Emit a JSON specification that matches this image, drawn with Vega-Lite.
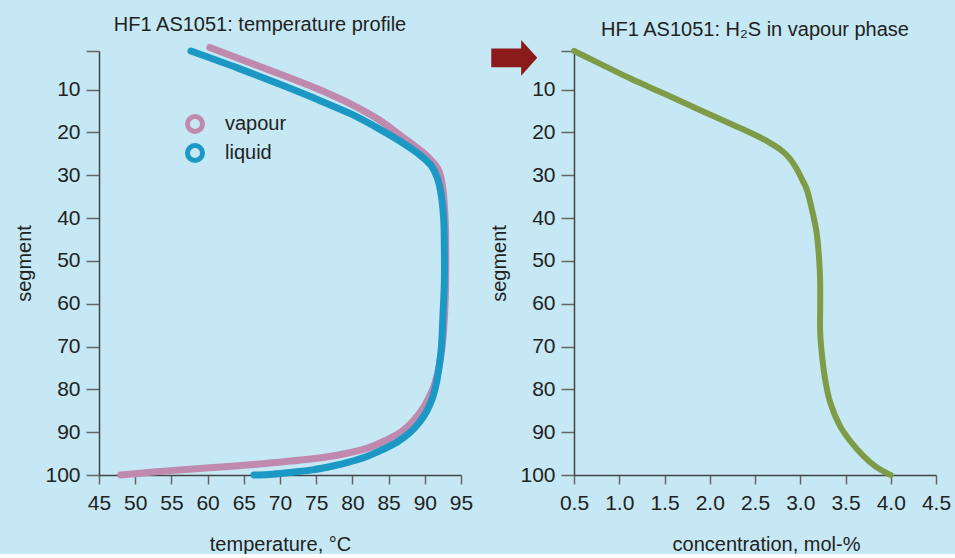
{
  "$schema": "https://vega.github.io/schema/vega-lite/v6.json",
  "background": "#c5e8f4",
  "padding": {"left": 14, "top": 14, "right": 10, "bottom": 0},
  "spacing": 113,
  "bounds": "flush",
  "datasets": {
    "temp": [
      {"phase": "vapour", "segment": 0.2, "temperature": 60.3},
      {"phase": "vapour", "segment": 3.5, "temperature": 65.5},
      {"phase": "vapour", "segment": 6.8, "temperature": 70.6},
      {"phase": "vapour", "segment": 10, "temperature": 75.4},
      {"phase": "vapour", "segment": 13.4, "temperature": 79.8},
      {"phase": "vapour", "segment": 17, "temperature": 83.6},
      {"phase": "vapour", "segment": 20.8, "temperature": 86.7},
      {"phase": "vapour", "segment": 25.5, "temperature": 90.3},
      {"phase": "vapour", "segment": 28.5, "temperature": 91.8},
      {"phase": "vapour", "segment": 32, "temperature": 92.4},
      {"phase": "vapour", "segment": 40, "temperature": 92.8},
      {"phase": "vapour", "segment": 50, "temperature": 92.9},
      {"phase": "vapour", "segment": 60, "temperature": 92.8},
      {"phase": "vapour", "segment": 70, "temperature": 92.4},
      {"phase": "vapour", "segment": 76, "temperature": 91.8},
      {"phase": "vapour", "segment": 80, "temperature": 91.1},
      {"phase": "vapour", "segment": 84, "temperature": 89.9},
      {"phase": "vapour", "segment": 87, "temperature": 88.6},
      {"phase": "vapour", "segment": 90, "temperature": 86.7},
      {"phase": "vapour", "segment": 92, "temperature": 84.5},
      {"phase": "vapour", "segment": 93.8, "temperature": 82},
      {"phase": "vapour", "segment": 95.5, "temperature": 77.5},
      {"phase": "vapour", "segment": 96.5, "temperature": 72.9},
      {"phase": "vapour", "segment": 97.3, "temperature": 68},
      {"phase": "vapour", "segment": 97.9, "temperature": 63.8},
      {"phase": "vapour", "segment": 98.7, "temperature": 57},
      {"phase": "vapour", "segment": 99.3, "temperature": 52.5},
      {"phase": "vapour", "segment": 100, "temperature": 48},
      {"phase": "liquid", "segment": 1, "temperature": 57.7},
      {"phase": "liquid", "segment": 5, "temperature": 64.2},
      {"phase": "liquid", "segment": 9.2, "temperature": 70.6},
      {"phase": "liquid", "segment": 12.5, "temperature": 75.4},
      {"phase": "liquid", "segment": 15.7, "temperature": 79.8},
      {"phase": "liquid", "segment": 19, "temperature": 83.5},
      {"phase": "liquid", "segment": 22.2, "temperature": 86.7},
      {"phase": "liquid", "segment": 25.5, "temperature": 89.5},
      {"phase": "liquid", "segment": 27.8, "temperature": 90.9},
      {"phase": "liquid", "segment": 30.5, "temperature": 91.7},
      {"phase": "liquid", "segment": 33.9, "temperature": 92.2},
      {"phase": "liquid", "segment": 40, "temperature": 92.6},
      {"phase": "liquid", "segment": 47, "temperature": 92.7},
      {"phase": "liquid", "segment": 55, "temperature": 92.7},
      {"phase": "liquid", "segment": 63, "temperature": 92.5},
      {"phase": "liquid", "segment": 70, "temperature": 92.3},
      {"phase": "liquid", "segment": 74.5, "temperature": 92.0},
      {"phase": "liquid", "segment": 78.5, "temperature": 91.6},
      {"phase": "liquid", "segment": 82.3, "temperature": 91.0},
      {"phase": "liquid", "segment": 85, "temperature": 90.3},
      {"phase": "liquid", "segment": 87.6, "temperature": 89.3},
      {"phase": "liquid", "segment": 90, "temperature": 88.0},
      {"phase": "liquid", "segment": 92.3, "temperature": 86.2},
      {"phase": "liquid", "segment": 94.2, "temperature": 84.0},
      {"phase": "liquid", "segment": 95.8, "temperature": 81.8},
      {"phase": "liquid", "segment": 97, "temperature": 79.5},
      {"phase": "liquid", "segment": 97.9, "temperature": 77.3},
      {"phase": "liquid", "segment": 98.8, "temperature": 74.5},
      {"phase": "liquid", "segment": 99.4, "temperature": 71.5},
      {"phase": "liquid", "segment": 99.8, "temperature": 69},
      {"phase": "liquid", "segment": 100, "temperature": 66.4}
    ],
    "h2s": [
      {"segment": 1, "concentration": 0.5},
      {"segment": 4, "concentration": 0.79},
      {"segment": 7.5, "concentration": 1.13},
      {"segment": 11, "concentration": 1.5},
      {"segment": 14.5, "concentration": 1.86},
      {"segment": 18, "concentration": 2.23},
      {"segment": 20.8, "concentration": 2.52},
      {"segment": 22.5, "concentration": 2.67},
      {"segment": 24, "concentration": 2.78},
      {"segment": 26, "concentration": 2.88},
      {"segment": 28.5, "concentration": 2.96},
      {"segment": 31, "concentration": 3.02},
      {"segment": 33.2, "concentration": 3.07},
      {"segment": 37.2, "concentration": 3.12},
      {"segment": 43.3, "concentration": 3.18},
      {"segment": 50, "concentration": 3.21},
      {"segment": 55, "concentration": 3.22},
      {"segment": 61, "concentration": 3.22},
      {"segment": 66.6, "concentration": 3.22},
      {"segment": 72, "concentration": 3.24},
      {"segment": 78.3, "concentration": 3.28},
      {"segment": 83, "concentration": 3.33},
      {"segment": 88.6, "concentration": 3.44},
      {"segment": 92, "concentration": 3.55},
      {"segment": 95.6, "concentration": 3.7},
      {"segment": 98, "concentration": 3.83},
      {"segment": 99.6, "concentration": 3.96},
      {"segment": 100, "concentration": 4.0}
    ],
    "feed": [
      {"segment": 2.6, "concentration": -0.16}
    ]
  },
  "hconcat": [
    {
      "width": 362,
      "height": 424,
      "title": {"text": "HF1 AS1051: temperature profile", "dx": -20},
      "data": {"name": "temp"},
      "mark": {"type": "line", "strokeWidth": 7, "strokeCap": "round", "interpolate": "catmull-rom"},
      "encoding": {
        "x": {
          "field": "temperature", "type": "quantitative",
          "scale": {"domain": [45, 95], "nice": false, "zero": false},
          "axis": {"title": "temperature, °C", "values": [45, 50, 55, 60, 65, 70, 75, 80, 85, 90, 95]}
        },
        "y": {
          "field": "segment", "type": "quantitative",
          "scale": {"domain": [1, 100], "reverse": true, "nice": false, "zero": false},
          "axis": {"title": "segment", "values": [1, 10, 20, 30, 40, 50, 60, 70, 80, 90, 100], "labelExpr": "datum.value == 1 ? '' : datum.label"}
        },
        "order": {"field": "segment", "type": "quantitative"},
        "color": {
          "field": "phase", "type": "nominal",
          "scale": {"domain": ["vapour", "liquid"], "range": ["#c08aae", "#1c98c4"]},
          "legend": {
            "title": null, "orient": "none", "legendX": 86, "legendY": 63,
            "symbolType": "circle", "symbolSize": 225, "symbolStrokeWidth": 5,
            "symbolFillColor": "transparent", "labelFontSize": 20, "labelColor": "#222",
            "labelOffset": 20, "rowPadding": -7, "padding": 0
          }
        }
      }
    },
    {
      "width": 362,
      "height": 424,
      "title": {"text": "HF1 AS1051: H₂S in vapour phase"},
      "layer": [
        {
          "data": {"name": "h2s"},
          "mark": {"type": "line", "strokeWidth": 6, "strokeCap": "round", "interpolate": "catmull-rom", "color": "#7e9c48"},
          "encoding": {
            "x": {
              "field": "concentration", "type": "quantitative",
              "scale": {"domain": [0.5, 4.5], "nice": false, "zero": false},
              "axis": {"title": "concentration, mol-%", "values": [0.5, 1, 1.5, 2, 2.5, 3, 3.5, 4, 4.5], "format": ".1f", "titleX": 192, "titleAlign": "center"}
            },
            "y": {
              "field": "segment", "type": "quantitative",
              "scale": {"domain": [1, 100], "reverse": true, "nice": false, "zero": false},
              "axis": {"title": "segment", "values": [1, 10, 20, 30, 40, 50, 60, 70, 80, 90, 100], "labelExpr": "datum.value == 1 ? '' : datum.label"}
            },
            "order": {"field": "segment", "type": "quantitative"}
          }
        },
        {
          "data": {"name": "feed"},
          "mark": {"type": "point", "filled": true, "opacity": 1, "color": "#8b1a1a", "size": 2116,
                   "shape": "M-1,-0.41 L0.3,-0.41 L0.3,-0.78 L1,0 L0.3,0.78 L0.3,0.41 L-1,0.41 Z"},
          "encoding": {
            "x": {"field": "concentration", "type": "quantitative"},
            "y": {"field": "segment", "type": "quantitative"}
          }
        }
      ]
    }
  ],
  "config": {
    "font": "Liberation Sans",
    "view": {"stroke": null},
    "title": {"fontSize": 20, "fontWeight": "normal", "color": "#222", "offset": -1, "anchor": "middle"},
    "axis": {
      "grid": false,
      "domainColor": "#444",
      "domainWidth": 1.5,
      "tickColor": "#666",
      "tickWidth": 1.5,
      "labelFontSize": 21,
      "labelColor": "#222",
      "titleFontSize": 20,
      "titleFontWeight": "normal",
      "titleColor": "#222",
      "labelFlush": false,
      "labelOverlap": false,
      "labelBound": false
    },
    "axisX": {"tickSize": 9, "labelPadding": 8, "titlePadding": 21},
    "axisY": {"tickSize": 13, "labelPadding": 6, "titlePadding": 10}
  }
}
